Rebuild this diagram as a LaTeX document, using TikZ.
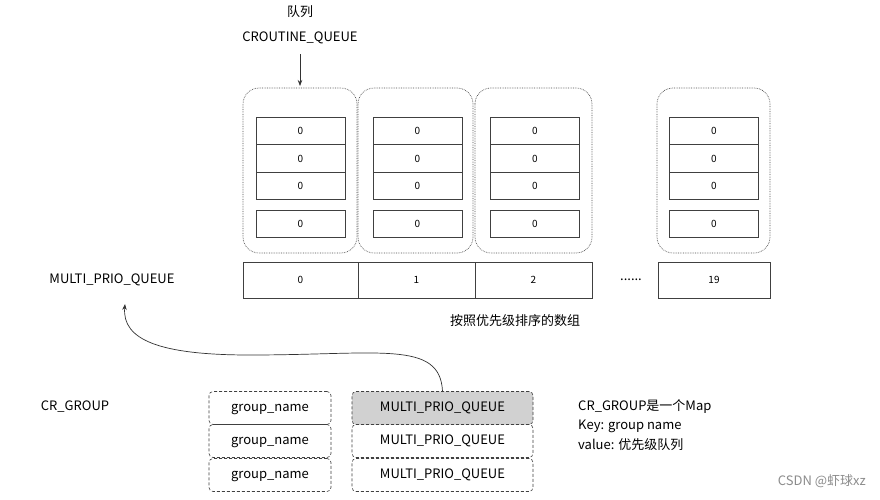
\documentclass[tikz,border=0pt]{standalone}
\usepackage{fontspec}
\setmainfont{Noto Sans CJK SC}
\usetikzlibrary{arrows.meta}
\begin{document}
\begin{tikzpicture}[x=1pt,y=-1pt,
  cont/.style={draw=black!70,densely dotted,rounded corners=16pt,line width=0.7pt},
  cell/.style={draw=black!75,line width=0.6pt,minimum width=89pt,minimum height=27.5pt,inner sep=0pt,font=\fontsize{10}{11}\selectfont},
  arr/.style={draw=black!75,line width=0.6pt,inner sep=0pt,font=\fontsize{10}{11}\selectfont,minimum height=36pt},
  gcell/.style={draw=black!75,densely dashed,rounded corners=4pt,line width=0.6pt,minimum height=33pt,inner sep=0pt,text height=9pt,text depth=3pt,font=\fontsize{13}{14}\selectfont},
  lbl/.style={font=\fontsize{13}{14}\selectfont,inner sep=0pt}]
\useasboundingbox (0,0) rectangle (880,499);
\fill[white] (0,0) rectangle (880,499);
% labels
\node[lbl] (t1) at (300,12) {队列};
\node[lbl] (t2) at (300,38) {CROUTINE\_QUEUE};
\coordinate (a1) at (300,54);
\coordinate (a2) at (300,86);
\draw[-{Stealth[length=6pt]},black!80,line width=0.7pt] (a1) -- (a2);
% containers
\foreach \i/\xa/\xb in {1/243/357,2/358/473,3/475/592,4/657/770}{
  \draw[cont] (\xa,88) rectangle (\xb,253);
}
\foreach \i/\cx in {1/300.5,2/417.5,3/535,4/714}{
  \node[cell] (c\i a) at (\cx,131) {0};
  \node[cell] (c\i b) at (\cx,158.5) {0};
  \node[cell] (c\i c) at (\cx,186) {0};
  \node[cell] (c\i d) at (\cx,224) {0};
}
% array
\node[arr,minimum width=115pt] (m0) at (300.5,280) {0};
\node[arr,minimum width=117pt] (m1) at (416.5,280) {1};
\node[arr,minimum width=117pt] (m2) at (533.5,280) {2};
\node[lbl] (dots) at (631,280) {......};
\node[arr,minimum width=112pt] (m19) at (714,280) {19};
\node[lbl] (mpq) at (112,280) {MULTI\_PRIO\_QUEUE};
\node[lbl] (sorted) at (515,321) {按照优先级排序的数组};
% group
\node[lbl] (crg) at (75,407) {CR\_GROUP};
\foreach \r/\y in {1/408,2/441,3/475}{
  \node[gcell,minimum width=122pt] (g\r) at (270,\y) {group\_name};
}
\node[gcell,minimum width=181pt,fill=black!18] (q1) at (442.5,408) {MULTI\_PRIO\_QUEUE};
\node[gcell,minimum width=181pt] (q2) at (442.5,441) {MULTI\_PRIO\_QUEUE};
\node[gcell,minimum width=181pt] (q3) at (442.5,475) {MULTI\_PRIO\_QUEUE};
\draw[-{Stealth[length=6pt]},black!80,line width=0.7pt] (q1.north) .. controls (440,340) and (380,355) .. (250,355) .. controls (160,355) and (122,340) .. (125,304);
\node[lbl,anchor=west,align=left] (note) at (578,425) {CR\_GROUP是一个Map\\[5pt]Key: group name\\[5pt]value: 优先级队列};
\node[lbl,text=black!45,anchor=east] (wm) at (866,481) {CSDN @虾球xz};
\end{tikzpicture}
\end{document}
